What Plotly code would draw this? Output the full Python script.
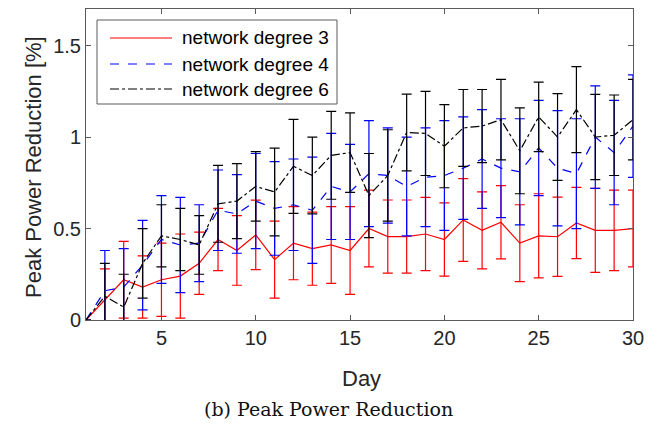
import plotly.graph_objects as go

days = list(range(1, 31))

deg3 = [0, 0.11, 0.22, 0.18, 0.22, 0.24, 0.31, 0.44, 0.38, 0.465,
        0.33, 0.42, 0.39, 0.41, 0.38, 0.50, 0.456, 0.456, 0.47, 0.44,
        0.547, 0.49, 0.534, 0.42, 0.46, 0.455, 0.53, 0.49, 0.49, 0.50]
deg3_err = [0, 0.17, 0.21, 0.17, 0.20, 0.23, 0.17, 0.17, 0.19, 0.19,
            0.21, 0.20, 0.20, 0.21, 0.24, 0.21, 0.20, 0.20, 0.20, 0.20,
            0.226, 0.21, 0.20, 0.21, 0.23, 0.217, 0.195, 0.23, 0.22, 0.21]

deg4 = [0, 0.16, 0.18, 0.30, 0.44, 0.41, 0.42, 0.60, 0.58, 0.65,
        0.61, 0.63, 0.60, 0.73, 0.70, 0.80, 0.79, 0.73, 0.78, 0.79,
        0.83, 0.88, 0.83, 0.81, 0.94, 0.83, 0.80, 1.00, 0.915, 1.06]
deg4_err = [0, 0.22, 0.21, 0.245, 0.24, 0.26, 0.21, 0.22, 0.215, 0.26,
            0.256, 0.25, 0.29, 0.29, 0.26, 0.29, 0.26, 0.27, 0.27, 0.30,
            0.28, 0.27, 0.27, 0.29, 0.26, 0.315, 0.30, 0.28, 0.285, 0.28]

deg6 = [0, 0.13, 0.07, 0.31, 0.46, 0.44, 0.41, 0.635, 0.65, 0.73,
        0.70, 0.84, 0.79, 0.90, 0.915, 0.68, 0.79, 1.025, 1.02, 0.95,
        1.05, 1.06, 1.095, 0.925, 1.11, 1.00, 1.15, 1.00, 1.01, 1.095]
deg6_err = [0, 0.18, 0.18, 0.19, 0.17, 0.17, 0.16, 0.21, 0.205, 0.19,
            0.24, 0.257, 0.21, 0.24, 0.217, 0.23, 0.25, 0.21, 0.23, 0.227,
            0.21, 0.20, 0.22, 0.235, 0.19, 0.237, 0.235, 0.233, 0.22, 0.22]

series_names = ["network degree 3", "network degree 4", "network degree 6"]
x_ticks = [5, 10, 15, 20, 25, 30]
y_ticks = [0, 0.5, 1, 1.5]
y_tick_labels = ["0", "0.5", "1", "1.5"]

colors = ["#ff0000", "#0000ff", "#000000"]
dashes = ["solid", "dash", "dashdot"]

W, H = 660, 424
ML, MR, MT, MB = 86, 27, 9, 104
PW, PH = W - ML - MR, H - MT - MB

def px(x):
    return (x - ML) / PW

def py(y):
    return (H - MB - y) / PH

fig = go.Figure()
for vals, errs, name, c, d in zip([deg3, deg4, deg6], [deg3_err, deg4_err, deg6_err],
                                  series_names, colors, dashes):
    fig.add_trace(go.Scatter(
        x=days, y=vals, mode="lines", name=name,
        line=dict(color=c, width=1.2, dash=d),
        error_y=dict(type="data", array=errs, visible=True, color=c,
                     thickness=1.2, width=5),
        showlegend=False,
    ))

axis_col = "#5a5a5a"
font_fam = "Liberation Sans, Arial, sans-serif"

fig.update_layout(
    width=W, height=H,
    margin=dict(l=ML, r=MR, t=MT, b=MB),
    plot_bgcolor="white", paper_bgcolor="white",
    xaxis=dict(range=[1, 30], tickvals=x_ticks, ticks="inside", ticklen=5,
               tickcolor=axis_col, showline=True, linecolor=axis_col, linewidth=1,
               mirror="ticks", showgrid=False, zeroline=False,
               tickfont=dict(family=font_fam, size=20, color="#262626")),
    yaxis=dict(range=[0, 1.7], tickvals=y_ticks, ticktext=y_tick_labels,
               ticks="inside", ticklen=5, tickcolor=axis_col, showline=True,
               linecolor=axis_col, linewidth=1, mirror="ticks", showgrid=False,
               zeroline=False,
               tickfont=dict(family=font_fam, size=20, color="#262626")),
)

annotations = [
    dict(text="Day", x=px(361), y=py(378), xref="paper", yref="paper",
         showarrow=False, font=dict(family=font_fam, size=22, color="#262626"),
         xanchor="center", yanchor="middle"),
    dict(text="Peak Power Reduction [%]", x=px(33), y=py(167), xref="paper",
         yref="paper", showarrow=False, textangle=-90,
         font=dict(family=font_fam, size=22, color="#262626"),
         xanchor="center", yanchor="middle"),
    dict(text="(b) Peak Power Reduction", x=px(328), y=py(409), xref="paper",
         yref="paper", showarrow=False,
         font=dict(family="DejaVu Serif, serif", size=19, color="#111111"),
         xanchor="center", yanchor="middle"),
]

shapes = [dict(type="rect", xref="paper", yref="paper",
               x0=px(97), x1=px(337), y0=py(104), y1=py(20),
               line=dict(color=axis_col, width=1), fillcolor="white")]
row_y = [38, 64, 89]
for name, c, d, ry in zip(series_names, colors, dashes, row_y):
    shapes.append(dict(type="line", xref="paper", yref="paper",
                       x0=px(110), x1=px(172), y0=py(ry), y1=py(ry),
                       line=dict(color=c, width=1.2, dash=d)))
    annotations.append(dict(text=name, x=px(180), y=py(ry), xref="paper",
                            yref="paper", showarrow=False, xanchor="left",
                            yanchor="middle",
                            font=dict(family=font_fam, size=19, color="#000000")))

fig.update_layout(annotations=annotations, shapes=shapes)
fig.write_html("out.html")
